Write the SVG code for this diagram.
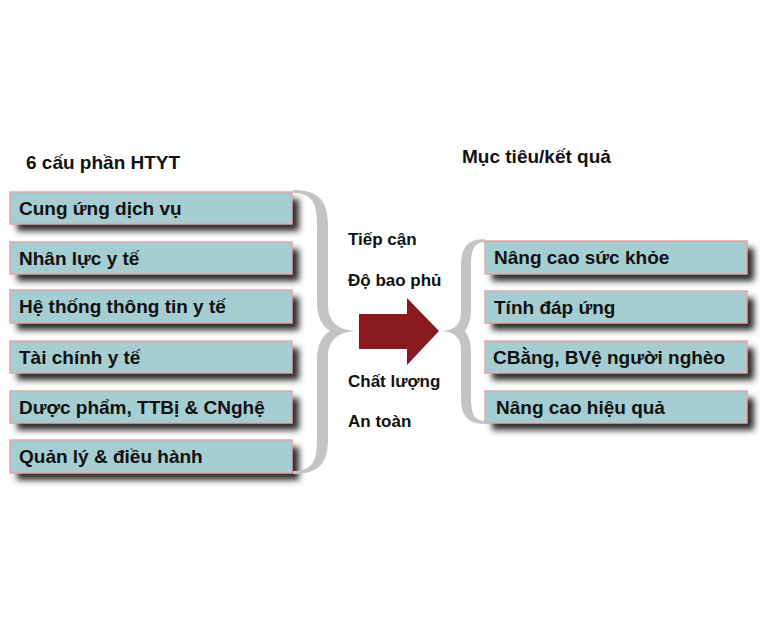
<svg xmlns="http://www.w3.org/2000/svg" width="768" height="644" viewBox="0 0 768 644">
<defs>
<filter id="blur" x="-20%" y="-50%" width="140%" height="200%">
<feGaussianBlur stdDeviation="3"/>
</filter>
<style>
.shadow{fill:#2e2a2a;filter:url(#blur)}
.box{fill:#a6cdd2;stroke:#e3a6ab;stroke-width:1.5}
.t{font-family:"Liberation Sans",Arial,sans-serif;font-weight:bold;font-size:19px;fill:#111}
.m{font-family:"Liberation Sans",Arial,sans-serif;font-weight:bold;font-size:17px;fill:#111}
.brace{fill:#c4c4c4}
</style>
</defs>
<rect width="768" height="644" fill="#fff"/>
<text class="t" x="26" y="169">6 cấu phần HTYT</text>
<text class="t" x="462" y="163">Mục tiêu/kết quả</text>

<g id="left-nodes">
<g id="n1"><rect class="shadow" x="17" y="199" width="282" height="32"/><rect class="box" x="10" y="192" width="282" height="32"/><text class="t" x="19" y="215">Cung ứng dịch vụ</text></g>
<g id="n2"><rect class="shadow" x="17" y="249" width="282" height="32"/><rect class="box" x="10" y="242" width="282" height="32"/><text class="t" x="19" y="265">Nhân lực y tế</text></g>
<g id="n3"><rect class="shadow" x="17" y="297" width="282" height="33"/><rect class="box" x="10" y="290" width="282" height="33"/><text class="t" x="19" y="313">Hệ thống thông tin y tế</text></g>
<g id="n4"><rect class="shadow" x="17" y="348" width="282" height="32"/><rect class="box" x="10" y="341" width="282" height="32"/><text class="t" x="19" y="364">Tài chính y tế</text></g>
<g id="n5"><rect class="shadow" x="17" y="398" width="282" height="32"/><rect class="box" x="10" y="391" width="282" height="32"/><text class="t" x="19" y="414">Dược phẩm, TTBị &amp; CNghệ</text></g>
<g id="n6"><rect class="shadow" x="17" y="447" width="282" height="33"/><rect class="box" x="10" y="440" width="282" height="33"/><text class="t" x="19" y="463">Quản lý &amp; điều hành</text></g>
</g>

<g id="right-nodes">
<g id="r1"><rect class="shadow" x="492" y="248" width="262" height="33"/><rect class="box" x="485" y="241" width="262" height="33"/><text class="t" x="494" y="264">Nâng cao sức khỏe</text></g>
<g id="r2"><rect class="shadow" x="492" y="298" width="262" height="32"/><rect class="box" x="485" y="291" width="262" height="32"/><text class="t" x="494" y="314">Tính đáp ứng</text></g>
<g id="r3"><rect class="shadow" x="492" y="348" width="262" height="32"/><rect class="box" x="485" y="341" width="262" height="32"/><text class="t" x="493" y="364">CBằng, BVệ người nghèo</text></g>
<g id="r4"><rect class="shadow" x="492" y="398" width="262" height="32"/><rect class="box" x="485" y="391" width="262" height="32"/><text class="t" x="496" y="414">Nâng cao hiệu quả</text></g>
</g>

<g id="mid-labels">
<text class="m" x="348" y="245">Tiếp cận</text>
<text class="m" x="348" y="286">Độ bao phủ</text>
<text class="m" x="348" y="387">Chất lượng</text>
<text class="m" x="348" y="427">An toàn</text>
</g>

<g id="connectors">
<path class="brace" d="M293,190 C318,190 328,200 328,225 L328,305 C328,322 338,330 356,331 C338,332 328,340 328,357 L328,440 C328,464 318,474 293,474 L293,471 C312,471 317,462 317,440 L317,360 C317,345 322,336 330,331 C322,326 317,317 317,302 L317,225 C317,203 312,193 293,193 Z"/>
<path class="brace" d="M485,239 C468,239 461,247 461,265 L461,312 C461,324 455,330 442,331 C455,332 461,338 461,350 L461,398 C461,416 468,424 485,424 L485,421 C474,421 471,413 471,398 L471,352 C471,342 468,335 465,331 C468,327 471,320 471,310 L471,265 C471,250 474,242 485,242 Z"/>
<polygon fill="#8b1a1f" points="359,314 407,314 407,298 439,331 407,365 407,349 359,349"/>
</g>
</svg>
